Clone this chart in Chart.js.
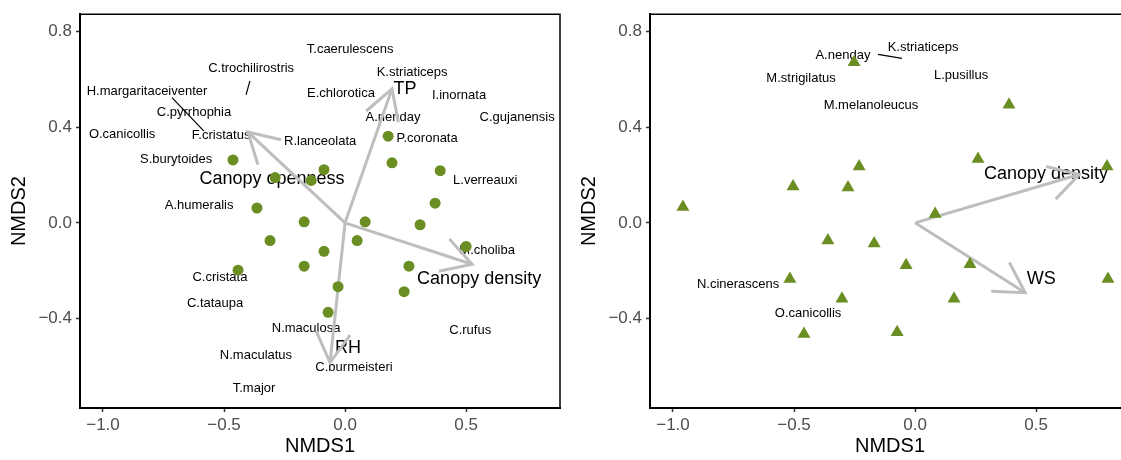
<!DOCTYPE html>
<html>
<head>
<meta charset="utf-8">
<title>NMDS ordination</title>
<script src="https://cdn.jsdelivr.net/npm/chart.js@4.4.0/dist/chart.umd.min.js"></script>
<style>
  html, body { margin: 0; padding: 0; background: #fff; overflow: hidden; }
  #wrap { position: relative; width: 1121px; height: 460px; overflow: hidden; }
  #left { position: absolute; left: 0; top: 0; }
  #right { position: absolute; left: 570px; top: 0; }
</style>
</head>
<body>
<div id="wrap">
  <canvas id="left" width="570" height="460"></canvas>
  <canvas id="right" width="570" height="460"></canvas>
</div>
<script>
// ========================
// DATA
// ========================
const xTicks = [-1.0, -0.5, 0.0, 0.5];
const yTicks = [-0.4, 0.0, 0.4, 0.8];
const xRange = [-1.095, 0.888];
const yRange = [-0.774, 0.872];

// left panel - site scores (circles)
const siteX1 = [-0.463, -0.364, -0.289, -0.087, -0.140, 0.178, 0.194, 0.393, 0.372, -0.169, 0.083,
                0.310, 0.050, -0.087, -0.169, 0.264, -0.029, 0.244, -0.070, 0.500, -0.442, -0.310];
const siteY1 = [0.263, 0.062, 0.189, 0.222, 0.177, 0.362, 0.251, 0.218, 0.082, 0.004, 0.004,
                -0.008, -0.074, -0.119, -0.181, -0.181, -0.267, -0.288, -0.374, -0.099, -0.198, -0.074];

// left panel - species labels
const spNames1 = ['T.caerulescens', 'C.trochilirostris', 'K.striaticeps', 'H.margaritaceiventer', 'E.chlorotica',
                  'I.inornata', 'C.pyrrhophia', 'A.nenday', 'C.gujanensis', 'O.canicollis', 'F.cristatus',
                  'R.lanceolata', 'P.coronata', 'S.burytoides', 'L.verreauxi', 'A.humeralis', 'M.choliba',
                  'C.cristata', 'C.tataupa', 'N.maculosa', 'C.rufus', 'N.maculatus', 'C.burmeisteri', 'T.major'];
const spX1 = [0.021, -0.388, 0.277, -0.818, -0.017, 0.471, -0.624, 0.198, 0.711, -0.921, -0.512,
              -0.103, 0.339, -0.698, 0.579, -0.603, 0.587, -0.517, -0.537, -0.161, 0.517, -0.368, 0.037, -0.376];
const spY1 = [0.724, 0.646, 0.630, 0.551, 0.539, 0.531, 0.461, 0.440, 0.440, 0.370, 0.366,
              0.342, 0.354, 0.263, 0.177, 0.074, -0.115, -0.230, -0.337, -0.440, -0.449, -0.556, -0.605, -0.691];
const segX1 = [[-0.393, -0.409], [-0.715, -0.583]];
const segY1 = [[0.593, 0.535], [0.523, 0.383]];

// left panel - environmental vectors
const vecNames1 = ['TP', 'Canopy openness', 'Canopy density', 'RH'];
const vecX1 = [0.194, -0.401, 0.525, -0.062];
const vecY1 = [0.560, 0.379, -0.173, -0.584];
const vecLabX1 = [0.248, -0.302, 0.554, 0.012];
const vecLabY1 = [0.560, 0.185, -0.235, -0.523];

// right panel - site scores (triangles)
const siteX2 = [-0.959, -0.504, -0.277, -0.252, -0.231, 0.388, 0.260, 0.793, 0.083, -0.360,
                -0.517, -0.302, -0.459, -0.169, -0.037, 0.227, 0.161, -0.074, 0.797];
const siteY2 = [0.066, 0.152, 0.148, 0.671, 0.235, 0.494, 0.267, 0.235, 0.037, -0.074,
                -0.235, -0.317, -0.465, -0.086, -0.177, -0.173, -0.317, -0.457, -0.235];

// right panel - species labels
const spNames2 = ['A.nenday', 'K.striaticeps', 'M.strigilatus', 'L.pusillus', 'M.melanoleucus', 'N.cinerascens', 'O.canicollis'];
const spX2 = [-0.298, 0.033, -0.471, 0.190, -0.182, -0.731, -0.442];
const spY2 = [0.700, 0.733, 0.605, 0.617, 0.490, -0.259, -0.379];
const segX2 = [[-0.153, -0.054]];
const segY2 = [[0.704, 0.687]];

// right panel - environmental vectors
const vecNames2 = ['Canopy density', 'WS'];
const vecX2 = [0.678, 0.455];
const vecY2 = [0.202, -0.292];
const vecLabX2 = [0.541, 0.521];
const vecLabY2 = [0.206, -0.235];

// ========================
// HELPERS
// ========================
const FONT = "'Liberation Sans', Arial, sans-serif";
const GREEN = '#6B8E23';
const ARROW = '#BEBEBE';

const fmt = v => (v < 0 ? '\u2212' : '') + Math.abs(v).toFixed(1);

// labels, repel segments and arrowheads drawn with the chart's own scales
const ordiPlugin = {
    id: 'ordi',
    beforeDatasetsDraw(chart, args, o) {
        const ctx = chart.ctx, xs = chart.scales.x, ys = chart.scales.y;
        ctx.save();
        ctx.fillStyle = '#000';
        ctx.textAlign = 'center';
        ctx.textBaseline = 'middle';
        ctx.font = '13px ' + FONT;
        o.spNames.forEach((name, i) => {
            ctx.fillText(name, xs.getPixelForValue(o.spX[i]), ys.getPixelForValue(o.spY[i]));
        });
        ctx.font = '18px ' + FONT;
        o.vecNames.forEach((name, i) => {
            ctx.fillText(name, xs.getPixelForValue(o.vecLabX[i]), ys.getPixelForValue(o.vecLabY[i]));
        });
        ctx.restore();
    },
    afterDatasetDraw(chart, args) {
        const ds = chart.data.datasets[args.index];
        if (!ds.arrow) return;
        const ctx = chart.ctx, xs = chart.scales.x, ys = chart.scales.y;
        const p0 = ds.data[0], p1 = ds.data[1];
        const x0 = xs.getPixelForValue(p0.x), y0 = ys.getPixelForValue(p0.y);
        const x1 = xs.getPixelForValue(p1.x), y1 = ys.getPixelForValue(p1.y);
        const ang = Math.atan2(y1 - y0, x1 - x0) + Math.PI;
        const len = 34, spread = Math.PI / 6;
        ctx.save();
        ctx.strokeStyle = ARROW;
        ctx.lineWidth = 3;
        ctx.lineCap = 'butt';
        ctx.beginPath();
        ctx.moveTo(x1 + len * Math.cos(ang - spread), y1 + len * Math.sin(ang - spread));
        ctx.lineTo(x1, y1);
        ctx.lineTo(x1 + len * Math.cos(ang + spread), y1 + len * Math.sin(ang + spread));
        ctx.stroke();
        ctx.restore();
    },
    afterDraw(chart) {
        // thin panel border on top and right
        const ctx = chart.ctx, a = chart.chartArea;
        ctx.save();
        ctx.strokeStyle = '#000';
        ctx.lineWidth = 1.5;
        ctx.beginPath();
        ctx.moveTo(a.left, a.top);
        ctx.lineTo(a.right, a.top);
        ctx.lineTo(a.right, a.bottom);
        ctx.stroke();
        ctx.restore();
    }
};

function makeChart(id, p) {
    const datasets = [];

    p.siteX.forEach(() => {});
    datasets.push({
        type: 'scatter',
        data: p.siteX.map((x, i) => ({ x: x, y: p.siteY[i] })),
        pointStyle: p.pointStyle,
        pointRadius: p.pointRadius,
        pointBackgroundColor: GREEN,
        pointBorderColor: GREEN,
        pointBorderWidth: 0,
        order: 1
    });

    p.vecX.forEach((x, i) => {
        datasets.push({
            type: 'line',
            arrow: true,
            data: [{ x: 0, y: 0 }, { x: x, y: p.vecY[i] }],
            borderColor: ARROW,
            borderWidth: 3,
            pointRadius: 0,
            fill: false,
            order: 2
        });
    });

    p.segX.forEach((sx, i) => {
        datasets.push({
            type: 'line',
            data: [{ x: sx[0], y: p.segY[i][0] }, { x: sx[1], y: p.segY[i][1] }],
            borderColor: '#000',
            borderWidth: 1.2,
            pointRadius: 0,
            fill: false,
            order: 3
        });
    });

    return new Chart(document.getElementById(id), {
        type: 'scatter',
        data: { datasets: datasets },
        options: {
            responsive: false,
            animation: false,
            layout: { padding: { top: 8, right: 10, left: 0, bottom: 0 } },
            plugins: {
                legend: { display: false },
                tooltip: { enabled: false },
                ordi: p
            },
            scales: {
                x: {
                    type: 'linear',
                    min: xRange[0],
                    max: xRange[1],
                    afterBuildTicks: s => { s.ticks = xTicks.map(v => ({ value: v })); },
                    afterFit: s => { s.height = 52; },
                    grid: { display: true, drawOnChartArea: false, drawTicks: true, tickLength: 4, tickColor: '#333', tickWidth: 1.5 },
                    border: { display: true, color: '#000', width: 2 },
                    ticks: { color: '#4D4D4D', font: { family: FONT, size: 17 }, padding: 3, autoSkip: false, maxRotation: 0, callback: v => fmt(v) },
                    title: { display: true, text: 'NMDS1', color: '#000', font: { family: FONT, size: 20 }, padding: { top: 0, bottom: 2 } }
                },
                y: {
                    type: 'linear',
                    min: yRange[0],
                    max: yRange[1],
                    afterBuildTicks: s => { s.ticks = yTicks.map(v => ({ value: v })); },
                    afterFit: s => { s.width = 80; },
                    grid: { display: true, drawOnChartArea: false, drawTicks: true, tickLength: 4, tickColor: '#333', tickWidth: 1.5 },
                    border: { display: true, color: '#000', width: 2 },
                    ticks: { color: '#4D4D4D', font: { family: FONT, size: 17 }, padding: 4, callback: v => fmt(v) },
                    title: { display: true, text: 'NMDS2', color: '#000', font: { family: FONT, size: 20 }, padding: { top: 7, bottom: 0 } }
                }
            }
        },
        plugins: [ordiPlugin]
    });
}

// ========================
// CHARTS
// ========================
makeChart('left', {
    siteX: siteX1, siteY: siteY1, pointStyle: 'circle', pointRadius: 5.5,
    spNames: spNames1, spX: spX1, spY: spY1, segX: segX1, segY: segY1,
    vecNames: vecNames1, vecX: vecX1, vecY: vecY1, vecLabX: vecLabX1, vecLabY: vecLabY1
});

makeChart('right', {
    siteX: siteX2, siteY: siteY2, pointStyle: 'triangle', pointRadius: 7.5,
    spNames: spNames2, spX: spX2, spY: spY2, segX: segX2, segY: segY2,
    vecNames: vecNames2, vecX: vecX2, vecY: vecY2, vecLabX: vecLabX2, vecLabY: vecLabY2
});
</script>
</body>
</html>
